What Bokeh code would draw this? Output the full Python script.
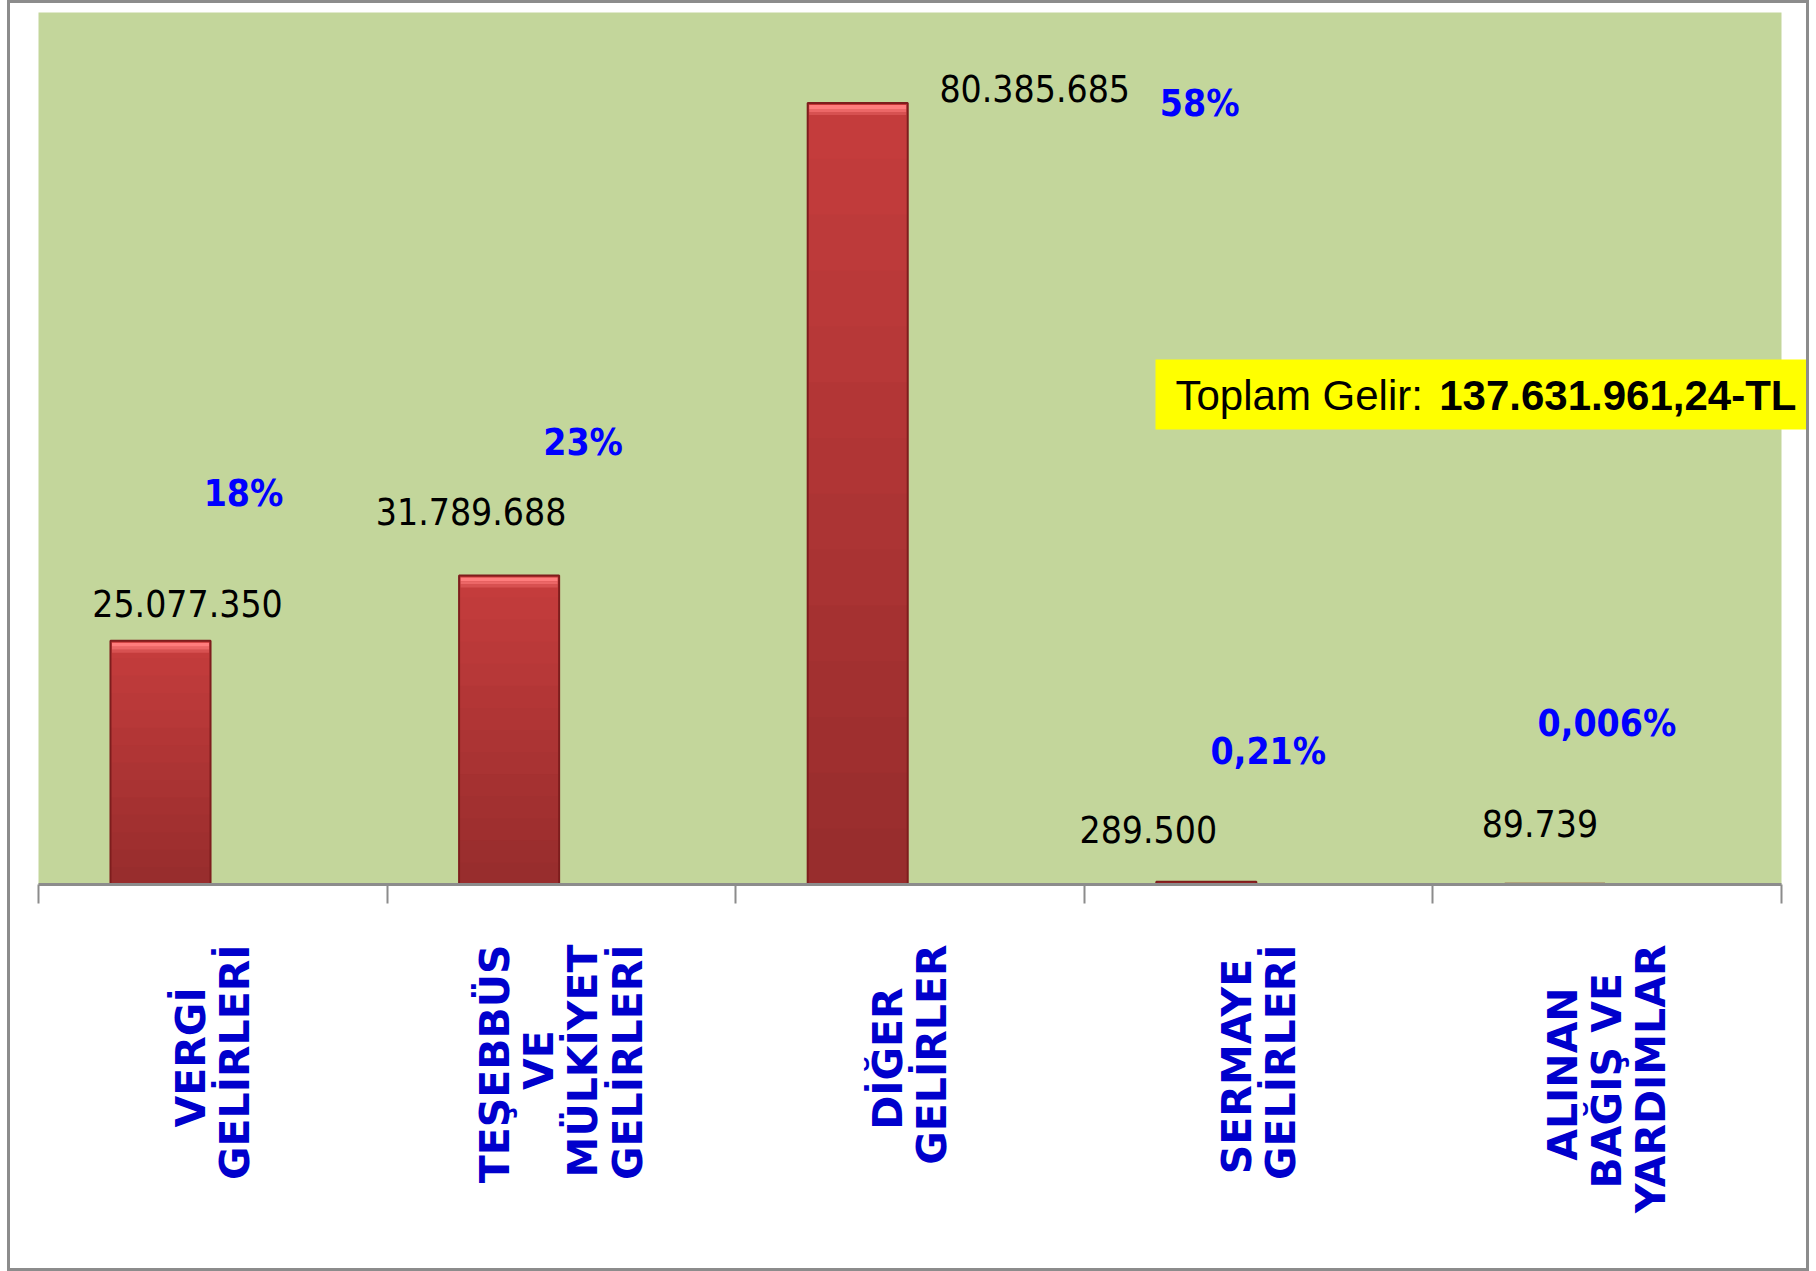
import math
from bokeh.plotting import figure
from bokeh.models import (Range1d, LinearAxis, FixedTicker, ColumnDataSource, BoxAnnotation, Label)
from bokeh.core.properties import value
from bokeh.embed import file_html
from bokeh.resources import INLINE

# ---------------- data ----------------
categories = [
    "VERGİ\nGELİRLERİ",
    "TEŞEBBÜS\nVE\nMÜLKİYET\nGELİRLERİ",
    "DİĞER\nGELİRLER",
    "SERMAYE\nGELİRLERİ",
    "ALINAN\nBAĞIŞ VE\nYARDIMLAR",
]
revenues = [25077350, 31789688, 80385685, 289500, 89739]
value_labels = ["25.077.350", "31.789.688", "80.385.685", "289.500", "89.739"]
share_labels = ["18%", "23%", "58%", "0,21%", "0,006%"]
total_name = "Toplam Gelir: "
total_value = "137.631.961,24-TL"

# ---------------- layout / style ----------------
Y_MAX = 89.7e6                      # value at the top of the green plot area
OX, OY = 10, 3                      # page position of the figure's top-left corner
W, H = 1796, 1265
AREA_L, AREA_R, AREA_T, AREA_B = 38, 1781, 12, 884   # green area, page pixels
NCAT = len(categories)
CAT_W = (AREA_R - AREA_L) / NCAT
PX = Y_MAX / (AREA_B - AREA_T)      # data units per pixel (y)
BAR_POS = 0.35                      # bar centre inside its category slot
BAR_W = 0.287

def xd(px):
    return (px - AREA_L) / CAT_W

def yd(px):
    return (AREA_B - px) * PX

# approximate advance widths (em) of DejaVu Sans Bold, used to centre the lines of
# the multi-line category names (axis labels are end-aligned by Bokeh)
ADV = {"A": .774, "B": .762, "D": .830, "E": .683, "G": .821, "Ğ": .821, "I": .372, "İ": .372,
       "K": .775, "L": .637, "M": .995, "N": .837, "R": .770, "S": .720, "Ş": .720, "T": .682,
       "Ü": .812, "V": .774, "Y": .724, " ": .348}
NBSP = "\u00a0"

def centred(name):
    lines = name.split("\n")
    widths = [sum(ADV.get(ch, .7) for ch in ln) for ln in lines]
    wmax = max(widths)
    return "\n".join(ln + NBSP * int(round((wmax - w) / 2 / ADV[" "])) for ln, w in zip(lines, widths))

# label offsets (pixels) relative to bar top centre
val_off = [(27, -37), (-38, -64), (177, -15), (-58, -52), (-15, -60)]
pct_off = [(83, -147), (74, -133), (342, 0), (62, -130), (52, -160)]

p = figure(width=W, height=H,
           x_range=Range1d(xd(OX), xd(OX + W)), y_range=Range1d(0, yd(OY)),
           x_axis_location=None, y_axis_location=None,
           output_backend="svg", toolbar_location=None,
           min_border_left=0, min_border_right=0, min_border_top=0,
           min_border_bottom=OY + H - AREA_B,
           background_fill_color="white", border_fill_color="white")
p.outline_line_color = None
p.margin = (OY, 0, 0, OX)
p.styles = {"outline": "3px solid #8C8C8C", "outline-offset": "0px"}
for g in p.grid:
    g.visible = False

# green plot area
p.add_layout(BoxAnnotation(left=0, right=NCAT, bottom=0, top=Y_MAX, fill_color="#C3D69B",
                           fill_alpha=1, line_color=None, level="underlay"))

# axis line + ticks at the category boundaries
edges = list(range(NCAT + 1))
tick_axis = LinearAxis(ticker=FixedTicker(ticks=edges), bounds=(0, NCAT),
                       major_label_overrides={e: "" for e in edges},
                       axis_line_color="#8C8C8C", axis_line_width=3,
                       major_tick_line_color="#8C8C8C", major_tick_line_width=2,
                       major_tick_in=0, major_tick_out=19, minor_tick_line_color=None,
                       major_label_standoff=0)
p.add_layout(tick_axis, "below")

# category names at the category centres
centres = [i + 0.5 for i in range(NCAT)]
cat_axis = LinearAxis(ticker=FixedTicker(ticks=centres), bounds=(0, NCAT),
                      major_label_overrides={c: centred(name) for c, name in zip(centres, categories)},
                      axis_line_color=None, major_tick_line_color=None, minor_tick_line_color=None,
                      major_label_orientation=math.pi / 2,
                      major_label_text_color="#0000CC",
                      major_label_text_font="DejaVu Sans",
                      major_label_text_font_style="bold",
                      major_label_text_font_size="41px",
                      major_label_text_line_height=0.92,
                      major_label_standoff=35)
p.add_layout(cat_axis, "below")

# ---------------- bars (vertical gradient slices) ----------------
xpos = [i + BAR_POS for i in range(NCAT)]
N = 14
top_rgb = (198, 61, 61)
bot_rgb = (150, 44, 44)
seg = dict(x=[], bottom=[], top=[], color=[])
for x, v in zip(xpos, revenues):
    for i in range(N):
        t = (i + 0.5) / N
        rgb = tuple(int(round(b + (a - b) * t)) for a, b in zip(top_rgb, bot_rgb))
        seg["x"].append(x)
        seg["bottom"].append(v * i / N)
        seg["top"].append(min(v * (i + 1) / N + PX, v))
        seg["color"].append("#%02x%02x%02x" % rgb)
p.vbar(x="x", bottom="bottom", top="top", width=BAR_W,
       fill_color="color", line_color=None, source=ColumnDataSource(seg))

# bevel strips at the bar tops
bevel = dict(x=[], bottom=[], top=[], color=[])
strips = [(0, 2, "#C43434"), (2, 6, "#FF7D7D"), (6, 9, "#EC6767"), (9, 12, "#D75151")]
for x, v in zip(xpos, revenues):
    for a, b, col in strips:
        bevel["x"].append(x)
        bevel["top"].append(max(v - a * PX, 0))
        bevel["bottom"].append(max(v - b * PX, 0))
        bevel["color"].append(col)
p.vbar(x="x", bottom="bottom", top="top", width=BAR_W * 0.97,
       fill_color="color", line_color=None, source=ColumnDataSource(bevel))

src = ColumnDataSource(dict(x=xpos, revenue=revenues, vlab=value_labels, plab=share_labels,
                            vx=[o[0] for o in val_off], vy=[o[1] for o in val_off],
                            px=[o[0] for o in pct_off], py=[o[1] for o in pct_off]))
p.vbar(x="x", top="revenue", bottom=0, width=BAR_W,
       fill_color=None, line_color="#7E1D1D", line_width=2, source=src)

NARROW = "Liberation Sans Narrow, DejaVu Sans Condensed, sans-serif"
p.text(x="x", y="revenue", text="vlab", x_offset="vx", y_offset="vy",
       text_align="center", text_baseline="middle", text_color="black",
       text_font=value(NARROW), text_font_size="37px", source=src)
p.text(x="x", y="revenue", text="plab", x_offset="px", y_offset="py",
       text_align="center", text_baseline="middle", text_color="#0000FF",
       text_font=value(NARROW), text_font_style="bold", text_font_size="37px", source=src)

# ---------------- total box ----------------
p.add_layout(BoxAnnotation(left=xd(1155), right=xd(1830), top=yd(359), bottom=yd(429),
                           fill_color="#FFFF00", fill_alpha=1, line_color=None, level="annotation"))
p.add_layout(Label(x=xd(1175), y=yd(395), text=total_name, text_font="Liberation Sans",
                   text_font_size="42px", text_color="black", text_baseline="alphabetic",
                   level="overlay"))
p.add_layout(Label(x=xd(1175 + 6.279 * 42), y=yd(395), text=total_value, text_font="Liberation Sans",
                   text_font_size="42px", text_font_style="bold", text_color="black",
                   text_baseline="alphabetic", level="overlay"))

open("out.html", "w").write(file_html(p, INLINE))
